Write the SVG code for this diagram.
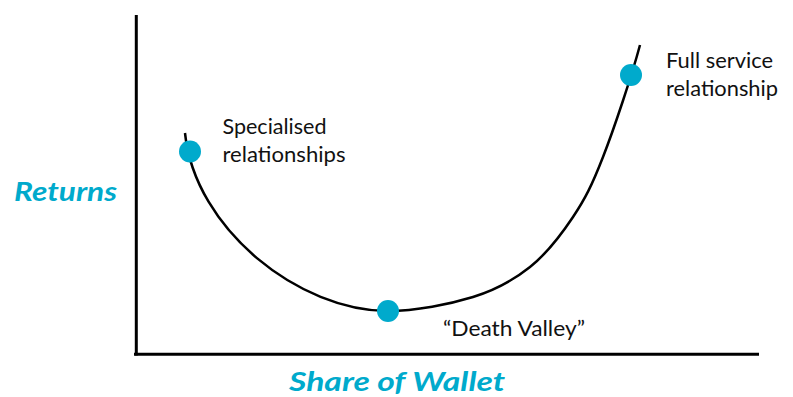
<svg xmlns="http://www.w3.org/2000/svg" width="793" height="397" viewBox="0 0 793 397">
<style>
.lbl{font-family:Lato,"Open Sans","Liberation Sans",sans-serif;font-size:21px;fill:#111}
.ax{font-family:Lato,"Open Sans","Liberation Sans",sans-serif;font-size:26px;font-weight:bold;font-style:italic;fill:#00AACC}
.dot{fill:#00AACC}
.line{stroke:#000;fill:none}
</style>
<rect width="793" height="397" fill="#fff"/>
<g id="axes">
<line class="line" x1="136.3" y1="15" x2="136.3" y2="355.5" stroke-width="3"/>
<line class="line" x1="134" y1="354.3" x2="759" y2="354.3" stroke-width="3"/>
</g>
<g id="connectors">
<path class="line" stroke-width="2.5" d="M185,133 C195,230 300,311 388,311 C416,311 449.3,304.3 473,297 C496.7,289.7 513.3,280.3 530,267 C546.7,253.7 560.8,235.3 573,217 C585.2,198.7 591.8,185.7 603,157 C614.2,128.3 632,75 640,45"/>
</g>
<g id="node-specialised">
<circle class="dot" cx="190" cy="151.5" r="11"/>
<text class="lbl" x="222.5" y="134" textLength="104" lengthAdjust="spacingAndGlyphs">Specialised</text>
<text class="lbl" x="222.5" y="162" textLength="123" lengthAdjust="spacingAndGlyphs">relationships</text>
</g>
<g id="node-death-valley">
<circle class="dot" cx="388" cy="311" r="11"/>
<text class="lbl" x="443" y="336" textLength="142" lengthAdjust="spacingAndGlyphs">“Death Valley”</text>
</g>
<g id="node-full-service">
<circle class="dot" cx="631" cy="75" r="11"/>
<text class="lbl" x="666" y="68" textLength="107" lengthAdjust="spacingAndGlyphs">Full service</text>
<text class="lbl" x="666" y="96" textLength="112" lengthAdjust="spacingAndGlyphs">relationship</text>
</g>
<g id="axis-labels">
<text class="ax" x="14" y="201" textLength="103" lengthAdjust="spacingAndGlyphs">Returns</text>
<text class="ax" x="289" y="391" textLength="216" lengthAdjust="spacingAndGlyphs">Share of Wallet</text>
</g>
</svg>
